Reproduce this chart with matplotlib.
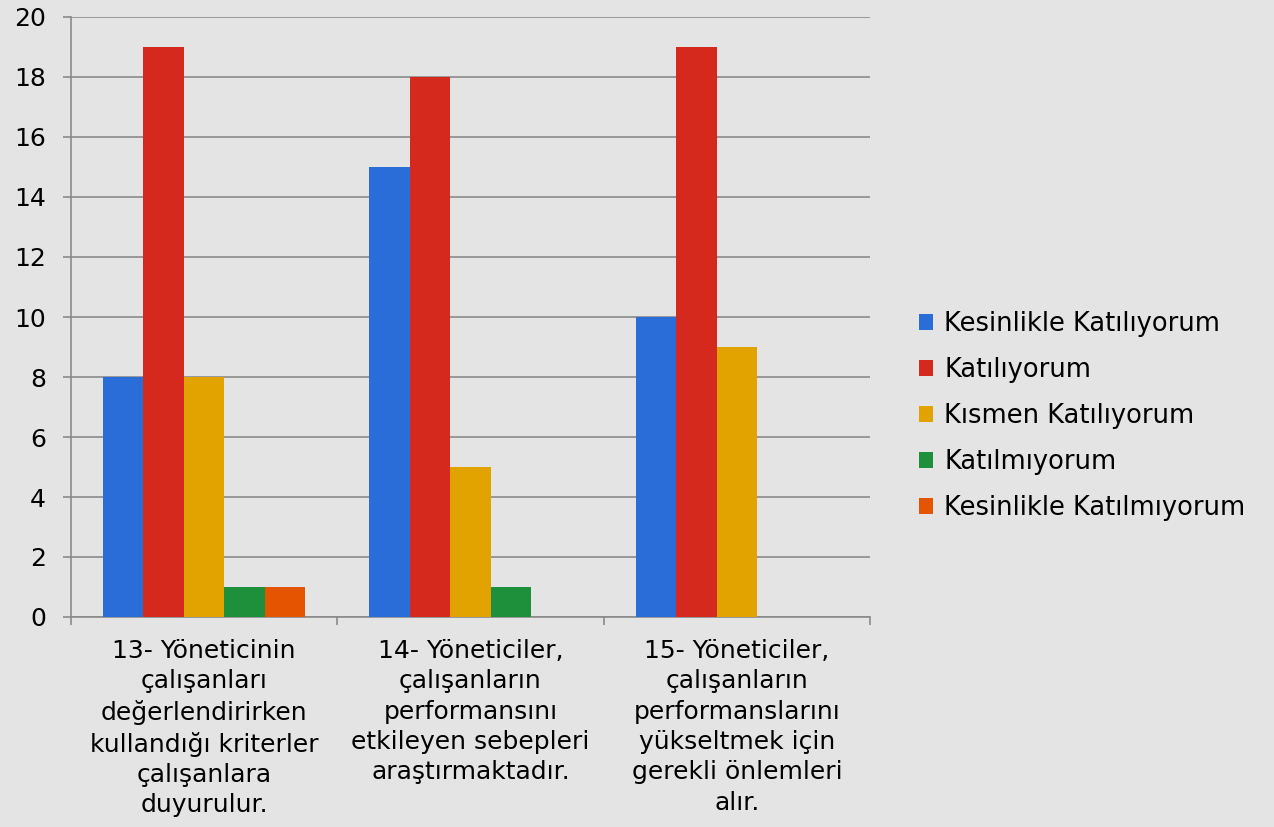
import matplotlib
matplotlib.use("Agg")
import matplotlib.pyplot as plt
import numpy as np

categories = [
    "13- Yöneticinin\nçalışanları\ndeğerlendirirken\nkullandığı kriterler\nçalışanlara\nduyurulur.",
    "14- Yöneticiler,\nçalışanların\nperformansını\netkileyen sebepleri\naraştırmaktadır.",
    "15- Yöneticiler,\nçalışanların\nperformanslarını\nyükseltmek için\ngerekli önlemleri\nalır.",
]
series_names = ["Kesinlikle Katılıyorum", "Katılıyorum", "Kısmen Katılıyorum",
                "Katılmıyorum", "Kesinlikle Katılmıyorum"]
kesinlikle_katiliyorum = [8, 15, 10]
katiliyorum = [19, 18, 19]
kismen_katiliyorum = [8, 5, 9]
katilmiyorum = [1, 1, 0]
kesinlikle_katilmiyorum = [1, 0, 0]
values = [kesinlikle_katiliyorum, katiliyorum, kismen_katiliyorum,
          katilmiyorum, kesinlikle_katilmiyorum]
colors = ["#2a6dd9", "#d4291c", "#e2a300", "#1e8f3a", "#e55400"]

plt.rcParams['font.family'] = ['DejaVu Sans']
bg = "#e4e4e4"
fig = plt.figure(figsize=(12.74, 8.27), dpi=100, facecolor=bg)
ax = fig.add_axes([71/1274, 1-617/827, (870-71)/1274, 600/827], facecolor=bg)

x = np.arange(len(categories))
w = 0.152
for k, (name, vals, c) in enumerate(zip(series_names, values, colors)):
    ax.bar(x + (k - 2) * w, vals, width=w, color=c, label=name, linewidth=0, zorder=3)

ax.set_xlim(-0.5, 2.5)
ax.set_ylim(0, 20)
ax.set_yticks(range(0, 21, 2))
ax.yaxis.grid(True, color="#8a8a8a", linewidth=1.2, zorder=0)
ax.set_xticks([-0.5, 0.5, 1.5, 2.5])
ax.set_xticklabels([])
ax.set_xticks(x, minor=True)
ax.set_xticklabels(categories, minor=True, fontsize=18, linespacing=1.33, va='top')
ax.tick_params(axis='x', which='minor', length=0, pad=16)
ax.tick_params(axis='x', which='major', length=6, color="#8a8a8a", width=1.2)
ax.tick_params(axis='y', length=6, color="#8a8a8a", width=1.2, labelsize=18, pad=12)
for s in ['top', 'right']:
    ax.spines[s].set_visible(False)
for s in ['left', 'bottom']:
    ax.spines[s].set_color("#8a8a8a")
    ax.spines[s].set_linewidth(1.2)

leg = fig.legend(loc='center left', bbox_to_anchor=(896/1274, 1-416/827), frameon=False,
                 fontsize=18.5, handlelength=0.55, handleheight=0.55, handletextpad=0.42,
                 labelspacing=0.78)
fig.savefig("out.png", dpi=100, facecolor=bg)
